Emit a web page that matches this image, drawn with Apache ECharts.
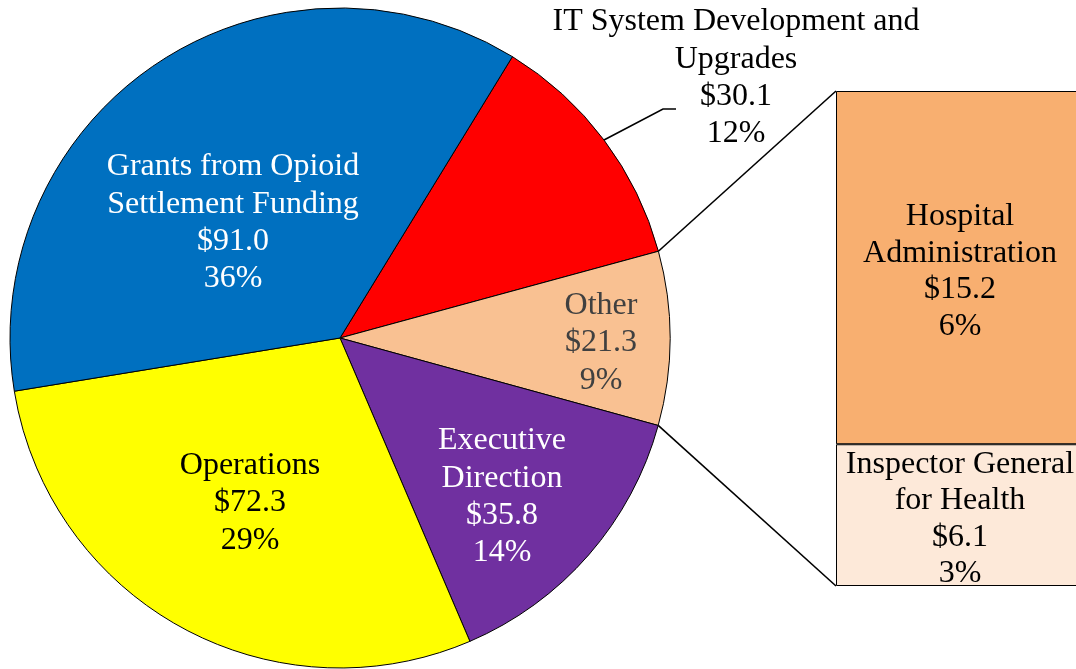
<!DOCTYPE html>
<html>
<head>
<meta charset="utf-8">
<script src="https://cdn.jsdelivr.net/npm/echarts@6/dist/echarts.min.js"></script>
<style>
  html, body { margin: 0; padding: 0; background: #fff; }
  #main { width: 1076px; height: 669px; }
</style>
</head>
<body>
<div id="main"></div>
<script>
// pie slices, clockwise from the IT slice
var pie_names = ['IT System Development and\nUpgrades', 'Other', 'Executive\nDirection', 'Operations', 'Grants from Opioid\nSettlement Funding'];
var pie_values = [30.1, 21.3, 35.8, 72.3, 91.0];
var pie_pcts = ['12%', '9%', '14%', '29%', '36%'];
var pie_colors = ['#FF0000', '#F9C192', '#7030A0', '#FFFF00', '#0070C0'];
var pie_text = ['#000', '#404040', '#fff', '#000', '#fff'];

// breakdown of "Other", bottom to top
var bar_names = ['Inspector General\nfor Health', 'Hospital\nAdministration'];
var bar_values = [6.1, 15.2];
var bar_pcts = ['3%', '6%'];
var bar_colors = ['#FDE9D9', '#F8AF70'];

var cx = 340, cy = 338, R = 330;
var start_angle = 58.5;
var total = pie_values.reduce(function (a, b) { return a + b; }, 0);

// angle (deg) at the start of each slice
function sliceStart(i) {
    var a = start_angle;
    for (var k = 0; k < i; k++) a -= pie_values[k] / total * 360;
    return a;
}
function ptAt(deg) {
    var r = deg * Math.PI / 180;
    return [cx + R * Math.cos(r), cy - R * Math.sin(r)];
}

// where each label block sits (centre)
var label_pos = [[736, 78], [601, 343], [502, 497], [250, 503], [233, 223]];

var bar_left = 836, bar_top = 91, bar_h = 495, bar_w = 250;
var font = 'Liberation Serif, Times New Roman, serif';

var myChart = echarts.init(document.getElementById('main'));

var pie_data = pie_values.map(function (v, i) {
    return {
        name: pie_names[i],
        value: v,
        itemStyle: { color: pie_colors[i] },
        label: { color: pie_text[i] }
    };
});

var bar_series = bar_values.map(function (v, i) {
    return {
        type: 'bar',
        stack: 'other',
        name: bar_names[i],
        data: [v],
        barWidth: '100%',
        itemStyle: { color: bar_colors[i], borderColor: '#000', borderWidth: 1 },
        label: {
            show: true,
            position: 'inside',
            offset: [-1, 4],
            color: '#000',
            fontFamily: font,
            fontSize: 32,
            lineHeight: 36.5,
            formatter: function () {
                return bar_names[i] + '\n$' + v.toFixed(1) + '\n' + bar_pcts[i];
            }
        }
    };
});

// connector lines from the "Other" slice edges to the bar corners
var other_top = ptAt(sliceStart(1));
var other_bot = ptAt(sliceStart(2));
var it_mid = ptAt(sliceStart(0) - pie_values[0] / total * 180);

var option = {
    animation: false,
    backgroundColor: '#fff',
    grid: { left: bar_left, top: bar_top, width: bar_w, height: bar_h, outerBoundsMode: 'none' },
    xAxis: { type: 'category', data: ['Other'], show: false },
    yAxis: { type: 'value', min: 0, max: 21.3, show: false },
    graphic: [
        { type: 'line', shape: { x1: other_top[0], y1: other_top[1], x2: bar_left, y2: bar_top }, style: { stroke: '#000', lineWidth: 1.6 } },
        { type: 'line', shape: { x1: other_bot[0], y1: other_bot[1], x2: bar_left, y2: bar_top + bar_h }, style: { stroke: '#000', lineWidth: 1.6 } },
        { type: 'polyline', shape: { points: [it_mid, [663, 109], [676, 109]] }, style: { stroke: '#000', lineWidth: 1.6, fill: null } }
    ],
    series: [{
        type: 'pie',
        center: [cx, cy],
        radius: [0, R],
        startAngle: start_angle,
        clockwise: true,
        data: pie_data,
        itemStyle: { borderColor: '#000', borderWidth: 1 },
        label: {
            show: true,
            position: 'inside',
            fontFamily: font,
            fontSize: 32,
            lineHeight: 37.3,
            align: 'center',
            formatter: function (p) {
                return p.name + '\n$' + p.value.toFixed(1) + '\n' + pie_pcts[p.dataIndex];
            }
        },
        labelLine: { show: false },
        labelLayout: function (p) {
            var pos = label_pos[p.dataIndex];
            return { x: pos[0], y: pos[1], align: 'center', verticalAlign: 'middle' };
        }
    }].concat(bar_series)
};

myChart.setOption(option);
</script>
</body>
</html>
